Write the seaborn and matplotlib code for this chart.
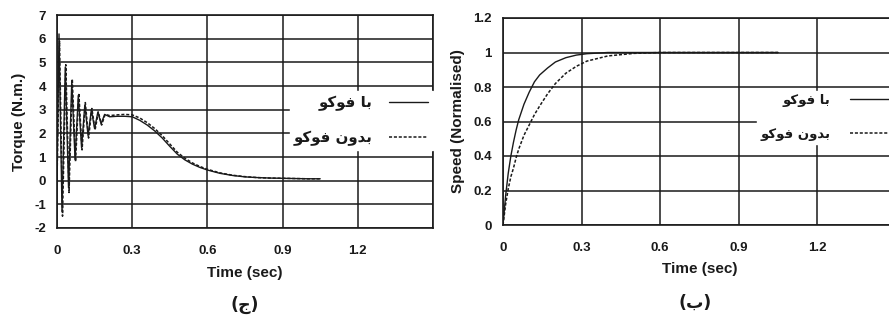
import numpy as np
import pandas as pd
import matplotlib
matplotlib.use("Agg")
import matplotlib.pyplot as plt
import seaborn as sns

# ---- data ----
t_torque_with = [0, 0.008, 0.02, 0.033, 0.046, 0.059, 0.072, 0.085, 0.098, 0.111, 0.124,
                 0.137, 0.15, 0.163, 0.176, 0.19, 0.21, 0.24, 0.27, 0.3, 0.33, 0.36, 0.39,
                 0.42, 0.45, 0.48, 0.51, 0.54, 0.57, 0.6, 0.65, 0.7, 0.75, 0.8, 0.85, 0.9,
                 0.95, 1.0, 1.05]
torque_with = [0, 6.2, -1.3, 4.8, -0.3, 4.2, 0.9, 3.6, 1.4, 3.2, 1.9, 3.0, 2.2, 2.9, 2.4,
               2.8, 2.7, 2.72, 2.72, 2.7, 2.55, 2.35, 2.1, 1.8, 1.45, 1.12, 0.88, 0.7, 0.56,
               0.45, 0.31, 0.22, 0.16, 0.13, 0.11, 0.1, 0.09, 0.08, 0.08]
t_torque_without = [0, 0.01, 0.022, 0.035, 0.048, 0.061, 0.074, 0.087, 0.1, 0.113, 0.126,
                    0.139, 0.152, 0.165, 0.178, 0.192, 0.21, 0.24, 0.27, 0.3, 0.33, 0.36,
                    0.39, 0.42, 0.45, 0.48, 0.51, 0.54, 0.57, 0.6, 0.65, 0.7, 0.75, 0.8,
                    0.85, 0.9, 0.95, 1.0, 1.05]
torque_without = [0, 5.9, -1.5, 4.9, -0.5, 4.3, 0.8, 3.7, 1.3, 3.3, 1.8, 3.05, 2.15, 2.9,
                  2.35, 2.8, 2.75, 2.78, 2.8, 2.78, 2.65, 2.45, 2.2, 1.9, 1.55, 1.2, 0.95,
                  0.75, 0.6, 0.48, 0.33, 0.23, 0.17, 0.13, 0.11, 0.1, 0.09, 0.08, 0.08]

t_speed = [0, 0.01, 0.02, 0.03, 0.04, 0.05, 0.06, 0.08, 0.1, 0.12, 0.14, 0.17, 0.2,
           0.24, 0.28, 0.32, 0.4, 0.5, 0.6, 0.8, 1.05]
speed_with = [0, 0.17, 0.3, 0.4, 0.48, 0.55, 0.61, 0.7, 0.77, 0.83, 0.87, 0.91, 0.945,
              0.97, 0.985, 0.993, 1.0, 1.0, 1.0, 1.0, 1.0]
speed_without = [0, 0.12, 0.21, 0.28, 0.33, 0.39, 0.44, 0.52, 0.58, 0.64, 0.69, 0.76,
                 0.82, 0.88, 0.92, 0.95, 0.98, 0.995, 1.0, 1.0, 1.0]

label_with = "\uFEEE\uFB90\uFEEE\uFED3 \uFE8E\uFE91"          # با فوکو
label_without = "\uFEEE\uFB90\uFEEE\uFED3 \uFEE5\uFEED\uFEAA\uFE91"  # بدون فوکو

x_ticks = [0, 0.3, 0.6, 0.9, 1.2, 1.5]
x_ticklabels = ["0", "0.3", "0.6", "0.9", "1.2", ""]
torque_ticks = list(range(-2, 8))
speed_ticks = [0, 0.2, 0.4, 0.6, 0.8, 1.0, 1.2]
speed_ticklabels = ["0", "0.2", "0.4", "0.6", "0.8", "1", "1.2"]

# ---- style ----
sns.set_style("white")
plt.rcParams["font.family"] = ["Liberation Sans", "DejaVu Sans"]
plt.rcParams["font.weight"] = "bold"

fig = plt.figure(figsize=(8.89, 3.24), dpi=100)
ax1 = fig.add_axes([57 / 889, 1 - 228 / 324, 376 / 889, 213 / 324])
ax2 = fig.add_axes([503 / 889, 1 - 225 / 324, 393 / 889, 207 / 324])

ink = "#1a1a1a"


def style_axes(ax):
    ax.grid(True, color=ink, linewidth=1.1)
    ax.set_axisbelow(True)
    for s in ax.spines.values():
        s.set_color(ink)
        s.set_linewidth(1.2)
    ax.tick_params(axis="both", direction="out", length=3, width=1, color=ink,
                   labelsize=9.5, labelcolor=ink)
    ax.tick_params(axis="x", pad=9)
    ax.tick_params(axis="y", pad=5)
    for lab in ax.get_xticklabels() + ax.get_yticklabels():
        lab.set_fontweight("bold")


# Left: torque
df1 = pd.DataFrame({"t": t_torque_with, "v": torque_with})
df2 = pd.DataFrame({"t": t_torque_without, "v": torque_without})
sns.lineplot(data=df1, x="t", y="v", ax=ax1, color=ink, linewidth=1.0,
             linestyle="-", label=label_with, sort=False)
sns.lineplot(data=df2, x="t", y="v", ax=ax1, color=ink, linewidth=1.1,
             linestyle=(0, (2, 1.2)), label=label_without, sort=False)
ax1.set_xlim(0, 1.5)
ax1.set_ylim(-2, 7)
ax1.set_xticks(x_ticks)
ax1.set_xticklabels(x_ticklabels)
ax1.set_yticks(torque_ticks)
ax1.set_yticklabels([str(v) for v in torque_ticks])
ax1.set_xlabel("Time (sec)", fontsize=11, fontweight="bold", color=ink, labelpad=7)
ax1.set_ylabel("Torque (N.m.)", fontsize=11, fontweight="bold", color=ink, labelpad=6)
style_axes(ax1)

# Right: speed
df3 = pd.DataFrame({"t": t_speed, "v": speed_with})
df4 = pd.DataFrame({"t": t_speed, "v": speed_without})
sns.lineplot(data=df3, x="t", y="v", ax=ax2, color=ink, linewidth=1.0,
             linestyle="-", label=label_with, sort=False)
sns.lineplot(data=df4, x="t", y="v", ax=ax2, color=ink, linewidth=1.1,
             linestyle=(0, (2, 1.2)), label=label_without, sort=False)
ax2.set_xlim(0, 1.5)
ax2.set_ylim(0, 1.2)
ax2.set_xticks(x_ticks)
ax2.set_xticklabels(x_ticklabels)
ax2.set_yticks(speed_ticks)
ax2.set_yticklabels(speed_ticklabels)
ax2.set_xlabel("Time (sec)", fontsize=11, fontweight="bold", color=ink, labelpad=6)
ax2.set_ylabel("Speed (Normalised)", fontsize=11, fontweight="bold", color=ink, labelpad=6)
style_axes(ax2)

legend_cfg = [
    (ax1, (1.0, 0.505), 10.8, 2.6, 1.1, 1.25, 0.3),
    (ax2, (1.0, 0.52), 9.5, 3.3, 1.5, 1.6, 0.2),
]
for ax, anchor, fs, hl, htp, ls, bp in legend_cfg:
    leg = ax.legend(loc="center right", bbox_to_anchor=anchor, markerfirst=False,
                    frameon=True, fancybox=False, framealpha=1.0, edgecolor="white",
                    facecolor="white", handlelength=hl, labelspacing=ls,
                    borderpad=bp, borderaxespad=0.0, handletextpad=htp,
                    alignment="right",
                    prop={"family": "DejaVu Sans", "weight": "bold", "size": fs})
    for txt in leg.get_texts():
        txt.set_color(ink)

fig.text(245 / 889, 1 - 305 / 324, "(ج)", ha="center", va="center", fontsize=12.5,
         color=ink, family=["DejaVu Sans"])
fig.text(695 / 889, 1 - 303 / 324, "(ب)", ha="center", va="center", fontsize=12.5,
         color=ink, family=["DejaVu Sans"])

fig.savefig("out.png", dpi=100, facecolor="white")
